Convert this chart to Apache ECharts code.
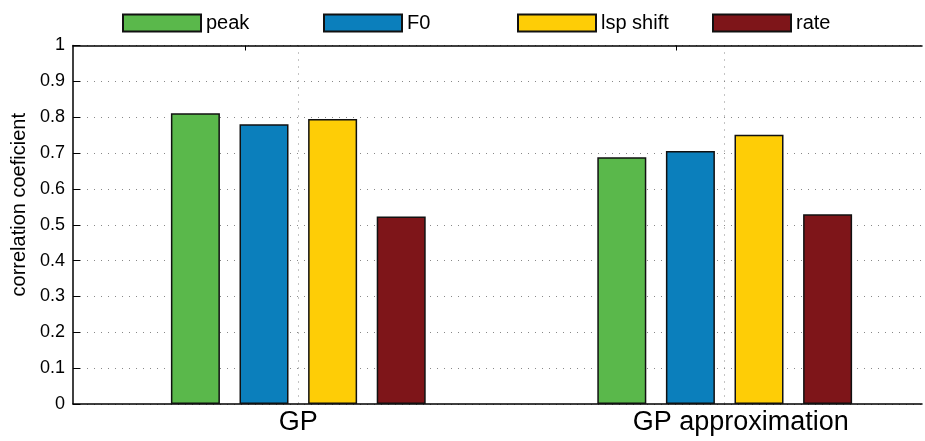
<!DOCTYPE html>
<html>
<head>
<meta charset="utf-8">
<script src="https://cdn.jsdelivr.net/npm/echarts@6/dist/echarts.min.js"></script>
<style>
  html, body { margin: 0; padding: 0; background: #fff; }
  #chart { width: 925px; height: 441px; }
</style>
</head>
<body>
<div id="chart"></div>
<script>
// Group positions on the x value axis and their labels
const groupPositions = [1, 2];
const groupLabels = ['GP', 'GP approximation'];

// Correlation coefficient for each feature, per group
const peakValues = [0.811, 0.688];
const f0Values = [0.780, 0.706];
const lspShiftValues = [0.795, 0.751];
const rateValues = [0.523, 0.529];

const seriesNames = ['peak', 'F0', 'lsp shift', 'rate'];
const seriesColors = ['#5ab84b', '#0b7fbc', '#fecd06', '#7e1519'];

const yTickLabels = ['0', '0.1', '0.2', '0.3', '0.4', '0.5', '0.6', '0.7', '0.8', '0.9', '1'];

const FONT = "'Liberation Sans', Arial, Helvetica, sans-serif";

function pairs(values) {
  return groupPositions.map((x, i) => [x, values[i]]);
}

const allValues = [peakValues, f0Values, lspShiftValues, rateValues];

const series = seriesNames.map((name, i) => ({
  name: name,
  type: 'bar',
  data: pairs(allValues[i]),
  barWidth: 49,
  barGap: '40%',
  itemStyle: {
    color: seriesColors[i],
    borderColor: '#111',
    borderWidth: 1.5
  },
  emphasis: { disabled: true }
}));

// One legend box per series, laid out in evenly spaced slots
const legendSlots = [117, 318, 512, 707];
const legends = seriesNames.map((name, i) => ({
  left: legendSlots[i],
  top: 8,
  icon: 'rect',
  itemWidth: 78,
  itemHeight: 17,
  itemTextGap: 11,
  textStyle: { fontSize: 20, color: '#000', fontFamily: FONT },
  data: [name]
}));

const chart = echarts.init(document.getElementById('chart'), null, { renderer: 'canvas' });

chart.setOption({
  animation: false,
  backgroundColor: '#fff',
  textStyle: { fontFamily: FONT },
  legend: legends,
  grid: {
    left: 73,
    right: 3,
    top: 45.5,
    bottom: 37,
    containLabel: false
  },
  xAxis: [
    {
      type: 'value',
      min: 0.4716,
      max: 2.4627,
      position: 'bottom',
      axisLine: { show: true, lineStyle: { color: '#000', width: 1.5 } },
      axisTick: { show: false, customValues: groupPositions },
      axisLabel: {
        customValues: groupPositions,
        formatter: (v) => {
          const idx = groupPositions.indexOf(Math.round(v * 1000) / 1000);
          if (idx === 0) return '{a|' + groupLabels[0] + '}';
          if (idx === 1) return '{b|' + groupLabels[1] + '}';
          return '';
        },
        rich: {
          a: { fontSize: 27, color: '#000', fontFamily: FONT },
          b: { fontSize: 27, color: '#000', fontFamily: FONT, padding: [0, 0, 0, 32] }
        },
        fontSize: 27,
        color: '#000',
        fontFamily: FONT,
        margin: 5
      },
      splitLine: {
        show: true,
        lineStyle: { color: '#888', type: [1, 6], width: 1 }
      }
    },
    {
      type: 'value',
      min: 0.4716,
      max: 2.4627,
      position: 'top',
      axisLine: { show: true, lineStyle: { color: '#000', width: 1.5 } },
      axisTick: { show: true, inside: true, length: 5, customValues: [0.875, 1.886], lineStyle: { color: '#000' } },
      axisLabel: { show: false },
      splitLine: { show: false }
    }
  ],
  yAxis: {
    type: 'value',
    min: 0,
    max: 1,
    interval: 0.1,
    name: 'correlation coeficient',
    nameLocation: 'middle',
    nameGap: 43,
    nameTextStyle: {
      fontSize: 20,
      color: '#000',
      fontFamily: FONT,
      padding: [0, 0, 0, 40]
    },
    axisLine: { show: true, lineStyle: { color: '#000', width: 1.5 } },
    axisTick: { show: true, inside: true, length: 7, lineStyle: { color: '#000' } },
    axisLabel: {
      formatter: (v) => yTickLabels[Math.round(v * 10)],
      fontSize: 18,
      color: '#000',
      fontFamily: FONT,
      margin: 8
    },
    splitLine: {
      show: true,
      lineStyle: { color: '#888', type: [1, 6], width: 1 }
    }
  },
  series: series
});
</script>
</body>
</html>
